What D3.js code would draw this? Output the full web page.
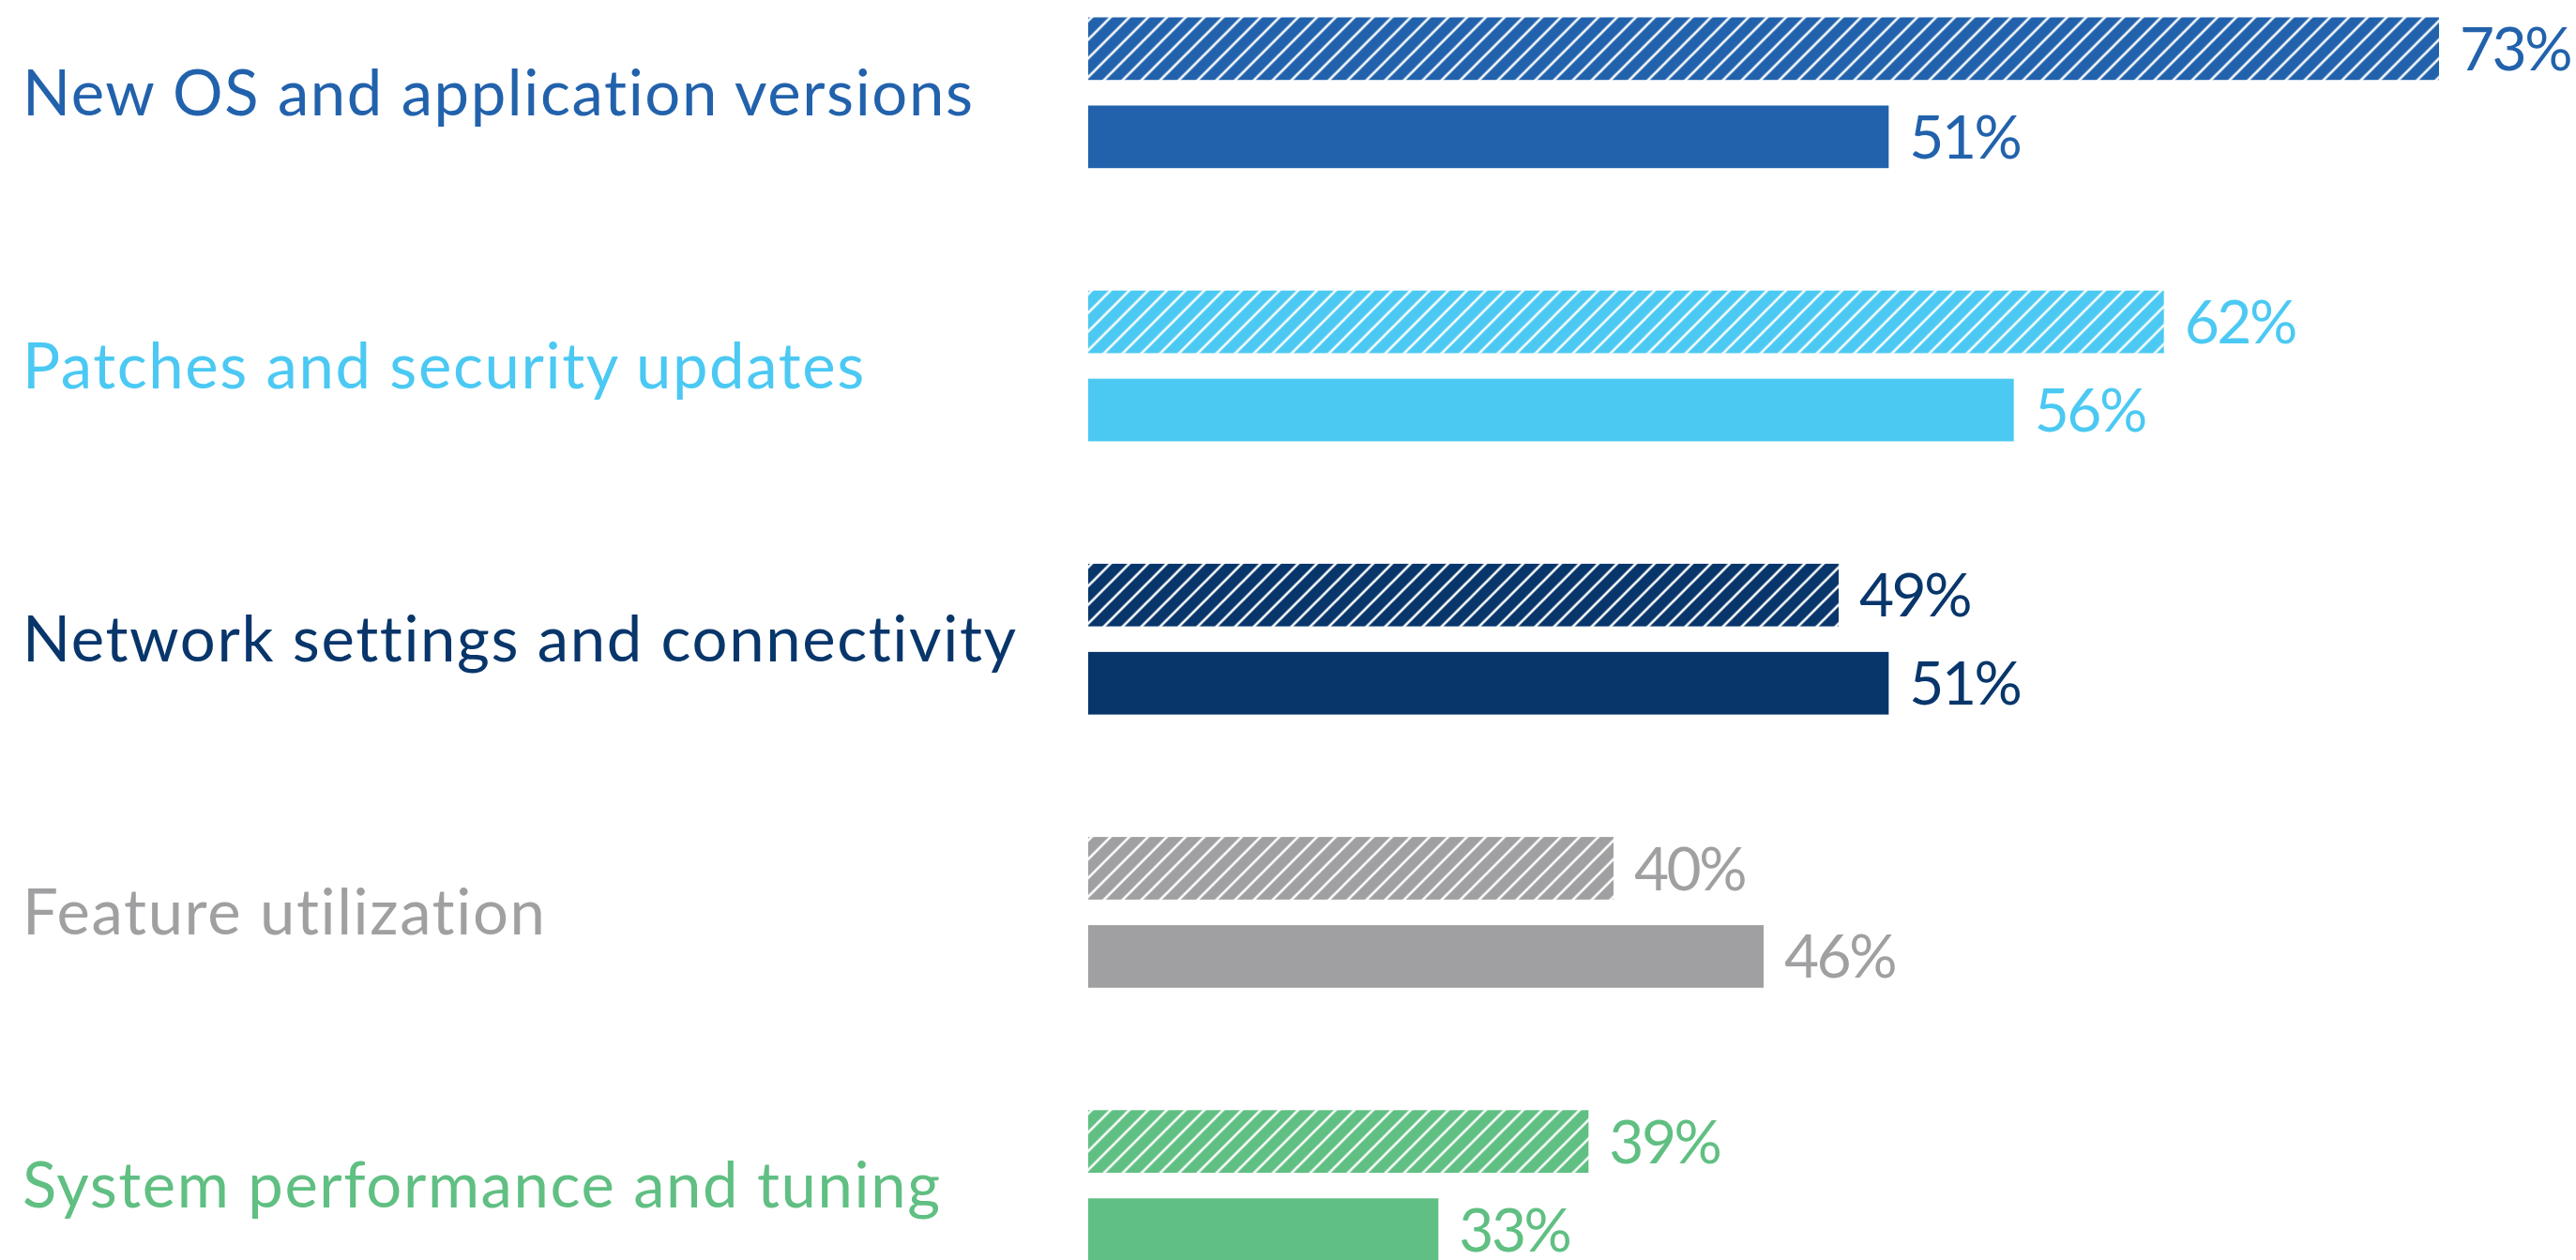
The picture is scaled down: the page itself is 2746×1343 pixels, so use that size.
<!DOCTYPE html>
<html>
<head>
<meta charset="utf-8">
<script src="https://cdn.jsdelivr.net/npm/d3@7"></script>
<style>
  html, body { margin: 0; padding: 0; background: #ffffff; }
  svg { display: block; }
  text { font-family: Lato, "Open Sans", sans-serif; font-variant-ligatures: none; }
</style>
</head>
<body>
<div id="chart"></div>
<script>
// Survey topics, each with two responses: hatched bar and solid bar
const categories = [
  "New OS and application versions",
  "Patches and security updates",
  "Network settings and connectivity",
  "Feature utilization",
  "System performance and tuning"
];
const hatchedValues = [73, 62, 49, 40, 39];
const solidValues   = [51, 56, 51, 46, 33];
const categoryColors = ["#2262ac", "#4bc9f3", "#08366b", "#a0a0a2", "#60bf82"];
const seriesKeys = ["hatched", "solid"];
const axisStart = 19;   // value at which the bars begin
const axisEnd = 73;

const width = 2746, height = 1343;

const svg = d3.select("#chart").append("svg")
  .attr("width", width)
  .attr("height", height);

const x = d3.scaleLinear().domain([axisStart, axisEnd]).range([1160, 2600]);

const groupStep = 291.2;
const y = d3.scaleBand()
  .domain(categories)
  .range([18.5, 18.5 + groupStep * categories.length])
  .paddingInner(0).paddingOuter(0);

const yInner = d3.scaleBand()
  .domain(seriesKeys)
  .range([0, 160.7])
  .paddingInner(0.29)
  .paddingOuter(0);

// Diagonal white stripes, one pattern per colour
const defs = svg.append("defs");
categoryColors.forEach((c, i) => {
  const p = defs.append("pattern")
    .attr("id", "hatch-" + i)
    .attr("patternUnits", "userSpaceOnUse")
    .attr("x", 3.7)
    .attr("width", 20)
    .attr("height", 20);
  p.append("rect").attr("width", 20).attr("height", 20).attr("fill", c);
  p.append("path")
    .attr("d", "M-5,5 L5,-5 M0,20 L20,0 M15,25 L25,15")
    .attr("stroke", "#ffffff")
    .attr("stroke-width", 2.6)
    .attr("fill", "none");
});

const rows = categories.map((cat, i) => ({
  cat, i, color: categoryColors[i],
  bars: [
    { key: "hatched", value: hatchedValues[i] },
    { key: "solid", value: solidValues[i] }
  ]
}));

const labelSize = 67;
const valueSize = 64;

const g = svg.selectAll("g.group")
  .data(rows)
  .join("g")
  .attr("class", "group")
  .attr("transform", d => `translate(0,${y(d.cat)})`);

// Category labels, centred on the pair of bars
g.append("text")
  .attr("x", 24)
  .attr("y", 160.7 / 2 + labelSize * 0.355)
  .attr("fill", d => d.color)
  .attr("font-size", labelSize)
  .attr("letter-spacing", 1.6)
  .text(d => d.cat);

const bar = g.selectAll("g.bar")
  .data(d => d.bars.map(b => ({ ...b, color: d.color, i: d.i })))
  .join("g")
  .attr("class", "bar");

bar.append("rect")
  .attr("x", x(axisStart))
  .attr("y", d => yInner(d.key))
  .attr("width", d => x(d.value) - x(axisStart))
  .attr("height", yInner.bandwidth())
  .attr("fill", d => d.key === "hatched" ? `url(#hatch-${d.i})` : d.color);

bar.append("text")
  .attr("x", d => x(d.value) + 22)
  .attr("y", d => yInner(d.key) + yInner.bandwidth() / 2 + valueSize * 0.36)
  .attr("fill", d => d.color)
  .attr("font-size", valueSize)
  .attr("letter-spacing", -2.5)
  .text(d => d.value + "%");
</script>
</body>
</html>
